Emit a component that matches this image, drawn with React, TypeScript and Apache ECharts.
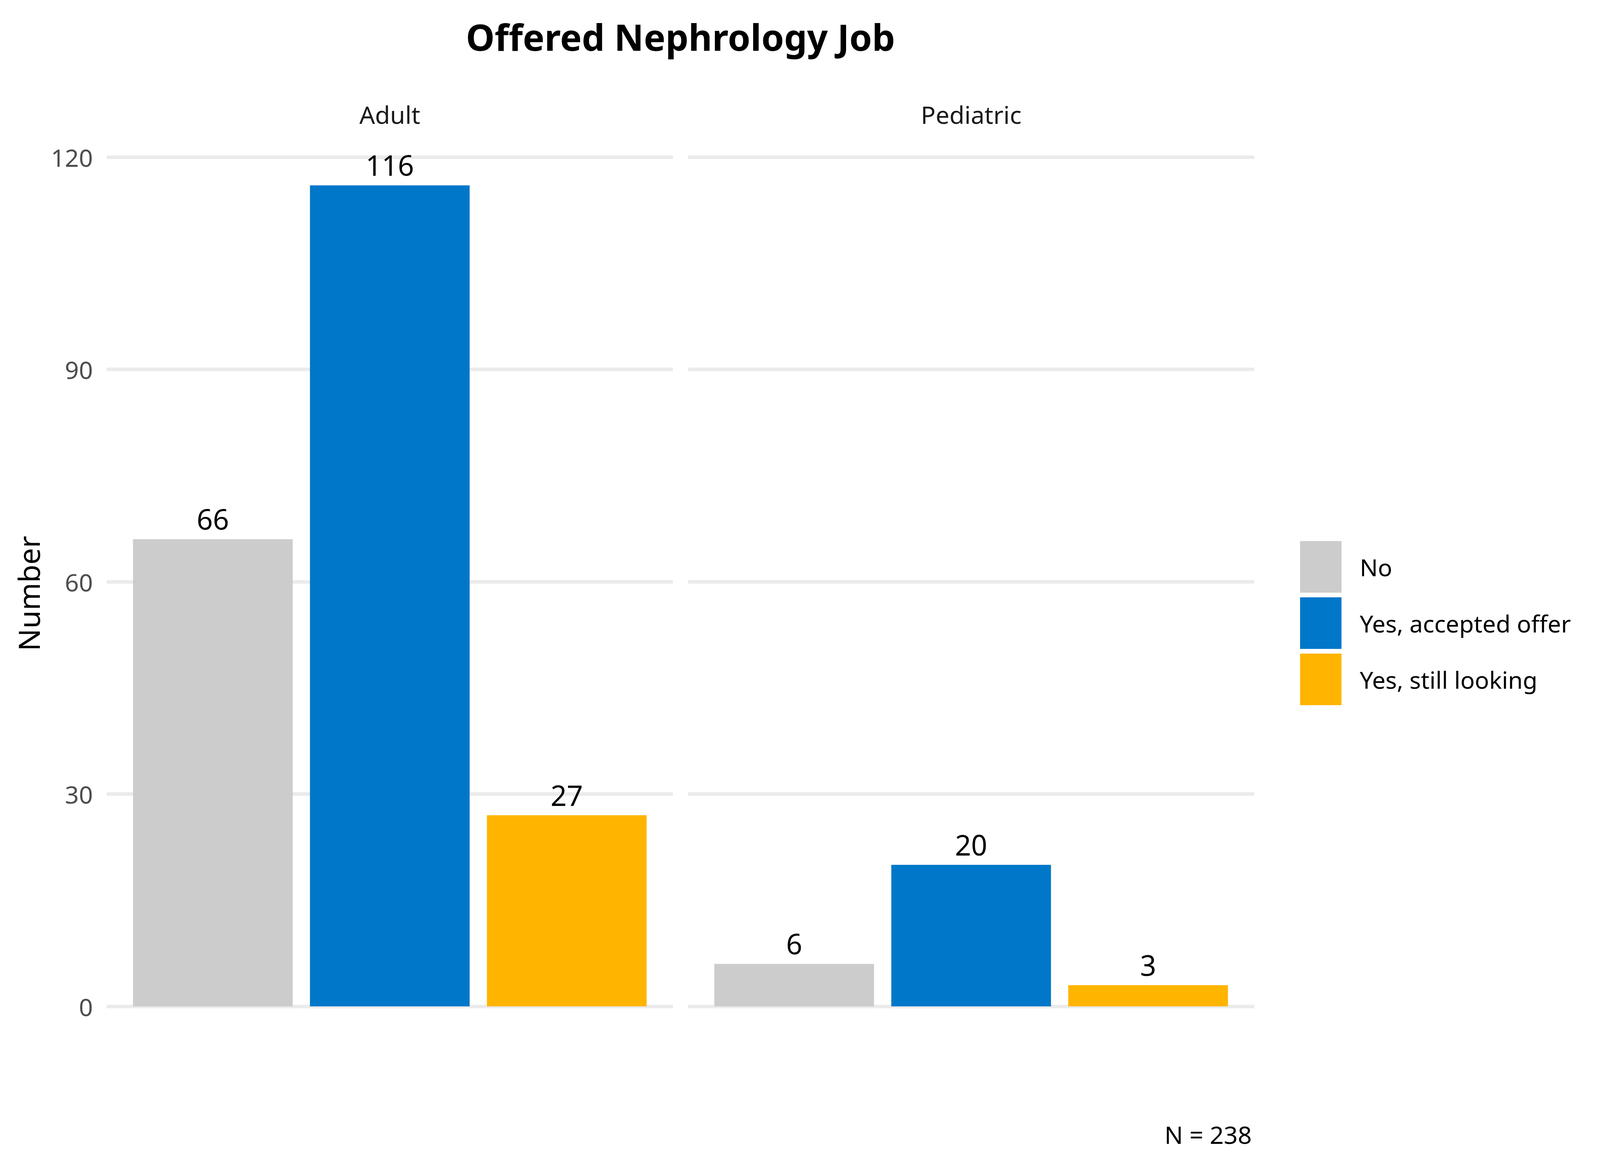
import React, { useEffect, useRef } from "react";
import * as echarts from "echarts";

// ---- data ----
const facets = ["Adult", "Pediatric"];
const categories = ["No", "Yes, accepted offer", "Yes, still looking"];
const adultValues = [66, 116, 27];
const pediatricValues = [6, 20, 3];
const facetValues = [adultValues, pediatricValues];
const yMin = 0;
const yMax = 120;
const yStep = 30;
const titleText = "Offered Nephrology Job";
const yAxisTitle = "Number";
const captionText = "N = 238";

// ---- style (in reference pixels, 5100 x 3000) ----
const colors = ["#CCCCCC", "#0077C8", "#FFB400"];
const FONT = "'Segoe UI', 'Noto Sans', 'Open Sans', sans-serif";
const REF_W = 5100;
const REF_H = 3000;
const PANEL_LEFT = [340, 2193];
const PANEL_W = 1805;
const PANEL_TOP = 402;
const PANEL_BOTTOM = 2576;
const BAR_W = 509;

export default function App() {
  const ref = useRef<HTMLDivElement>(null);

  useEffect(() => {
    if (!ref.current) return;
    document.body.style.margin = "0";
    document.body.style.overflow = "hidden";
    const W = Math.min(window.innerWidth || REF_W, REF_W);
    const H = Math.min(window.innerHeight || REF_H, REF_H);
    const sx = W / REF_W;
    const sy = H / REF_H;
    const fs = Math.min(sx, sy);
    const X = (v: number) => v * sx;
    const Y = (v: number) => v * sy;
    const F = (v: number) => v * fs;
    ref.current.style.width = W + "px";
    ref.current.style.height = H + "px";
    const chart = echarts.init(ref.current, null, { renderer: "svg", width: W, height: H });

    const grids = facets.map((_, i) => ({
      left: X(PANEL_LEFT[i]),
      top: Y(PANEL_TOP),
      width: X(PANEL_W),
      height: Y(PANEL_BOTTOM - PANEL_TOP),
      containLabel: false,
    }));

    const xAxes = facets.map((_, i) => ({
      type: "value",
      gridIndex: i,
      min: 0.4,
      max: categories.length + 0.6,
      show: false,
      splitLine: { show: false },
    }));

    const yAxes = facets.map((_, i) => ({
      type: "value",
      gridIndex: i,
      min: yMin,
      max: yMax,
      interval: yStep,
      axisLine: { show: false },
      axisTick: { show: false },
      axisLabel: {
        show: i === 0,
        color: "#4D4D4D",
        fontSize: F(78),
        fontFamily: FONT,
        margin: X(44),
      },
      splitLine: { show: true, lineStyle: { color: "#EBEBEB", width: Y(9) } },
    }));

    const series: any[] = [];
    facets.forEach((_, fi) => {
      categories.forEach((cat, ci) => {
        series.push({
          type: "bar",
          name: cat,
          xAxisIndex: fi,
          yAxisIndex: fi,
          barWidth: X(BAR_W),
          barGap: "-100%",
          itemStyle: { color: colors[ci] },
          label: {
            show: true,
            position: "top",
            distance: Y(16),
            color: "#000000",
            fontSize: F(90),
            fontFamily: FONT,
          },
          data: [[ci + 1, facetValues[fi][ci]]],
        });
      });
    });

    const panelCenter = (i: number) => X(PANEL_LEFT[i] + PANEL_W / 2);

    const graphics: any[] = [
      {
        type: "text",
        x: X((PANEL_LEFT[0] + PANEL_LEFT[1] + PANEL_W) / 2),
        y: Y(93),
        style: {
          text: titleText,
          fontSize: F(116),
          fontWeight: "bold",
          fontFamily: FONT,
          fill: "#000000",
          textAlign: "center",
          textVerticalAlign: "middle",
        },
      },
      ...facets.map((f, i) => ({
        type: "text",
        x: panelCenter(i),
        y: Y(292),
        style: {
          text: f,
          fontSize: F(78),
          fontFamily: FONT,
          fill: "#1A1A1A",
          textAlign: "center",
          textVerticalAlign: "middle",
        },
      })),
      {
        type: "text",
        x: X(90),
        y: Y(1519),
        rotation: Math.PI / 2,
        style: {
          text: yAxisTitle,
          fontSize: F(94),
          fontFamily: FONT,
          fill: "#000000",
          textAlign: "center",
          textVerticalAlign: "middle",
        },
      },
      {
        type: "text",
        x: X(PANEL_LEFT[1] + PANEL_W - 8),
        y: Y(2903),
        style: {
          text: captionText,
          fontSize: F(78),
          fontFamily: FONT,
          fill: "#000000",
          textAlign: "right",
          textVerticalAlign: "middle",
        },
      },
    ];

    chart.setOption({
      animation: false,
      backgroundColor: "#FFFFFF",
      grid: grids,
      xAxis: xAxes,
      yAxis: yAxes,
      legend: {
        orient: "vertical",
        left: X(4144),
        top: Y(1385),
        padding: 0,
        itemWidth: X(132),
        itemHeight: Y(132),
        itemGap: Y(12),
        icon: "rect",
        data: categories,
        textStyle: {
          fontSize: F(76),
          fontFamily: FONT,
          color: "#000000",
          padding: [0, 0, 0, X(52)],
        },
      },
      series,
      graphic: graphics,
    });

    return () => chart.dispose();
  }, []);

  return <div ref={ref} style={{ background: "#FFFFFF" }} />;
}
